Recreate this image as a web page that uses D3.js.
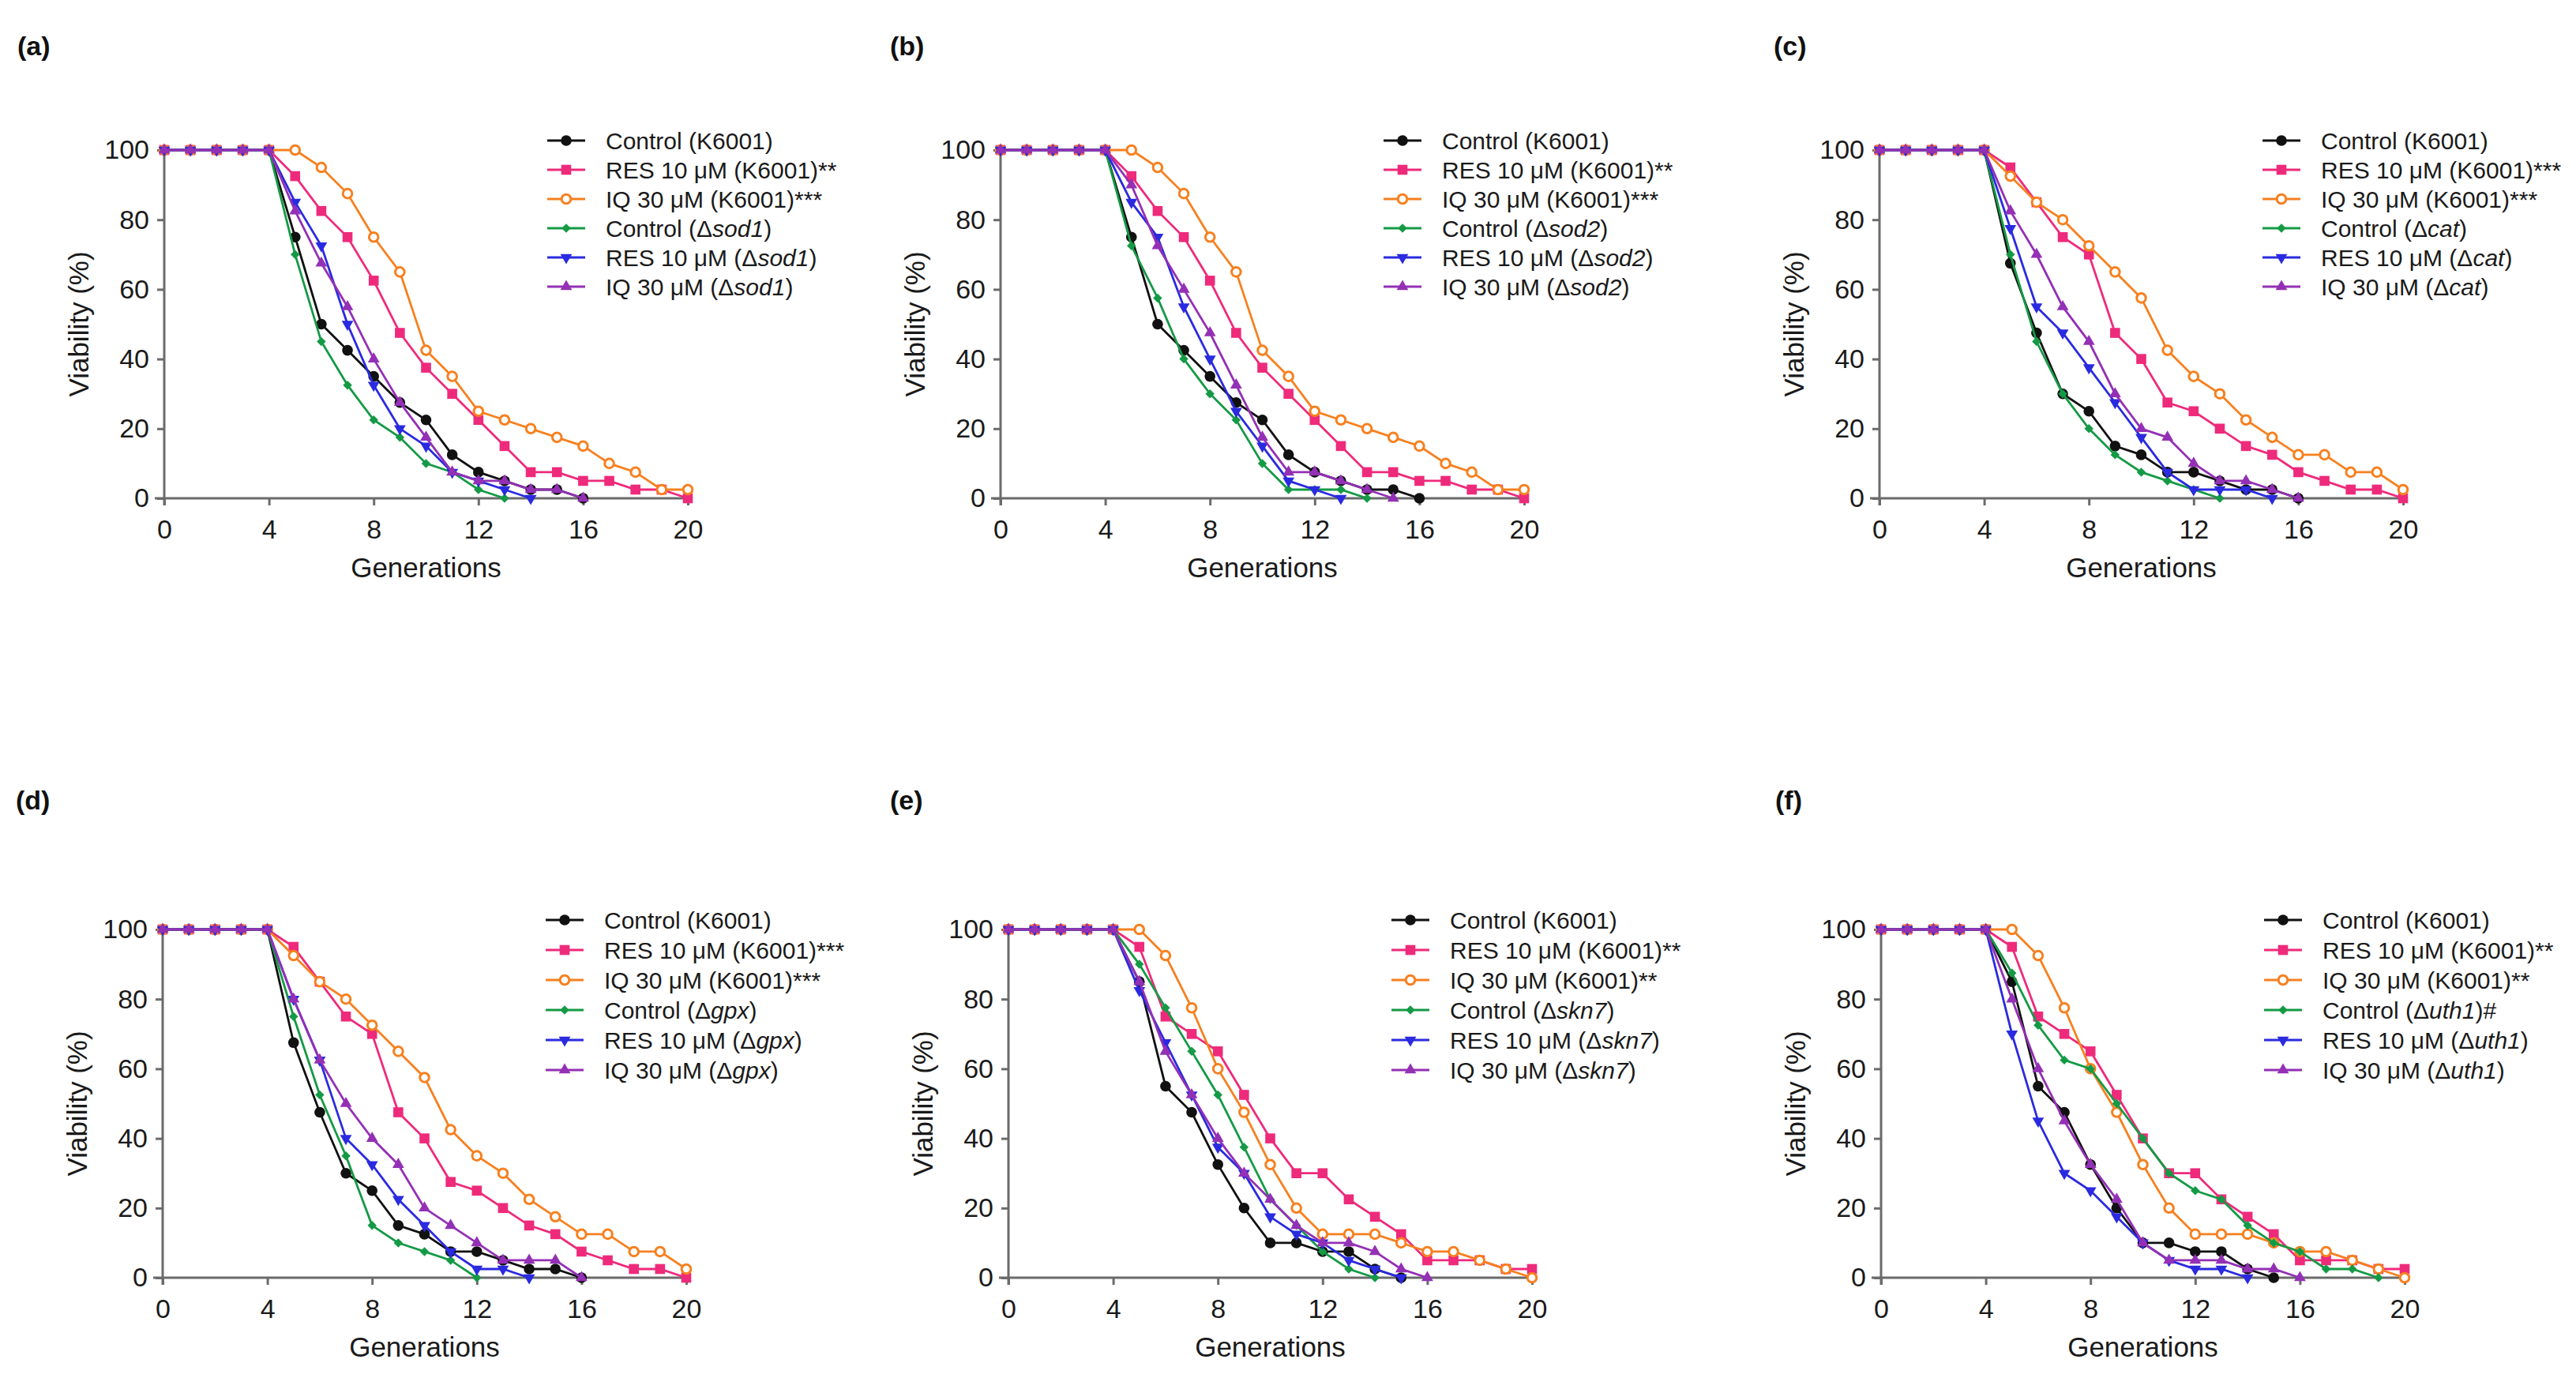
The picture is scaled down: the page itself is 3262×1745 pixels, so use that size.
<!DOCTYPE html>
<html>
<head>
<meta charset="utf-8">
<script src="https://cdn.jsdelivr.net/npm/d3@7"></script>
<style>
  body { margin: 0; background: #fff; }
  svg { display: block; font-family: "Liberation Sans", Arial, sans-serif; }
</style>
</head>
<body>
<div class="chart"></div>
<script>
// Paramètres de la figure
const width = 3262;
const height = 1745;

const xTicks = [0, 4, 8, 12, 16, 20];
const yTicks = [0, 20, 40, 60, 80, 100];

const panelLabels = ['(a)', '(b)', '(c)', '(d)', '(e)', '(f)'];
const mutants = ['sod1', 'sod2', 'cat', 'gpx', 'skn7', 'uth1'];
const resStars = ['**', '**', '***', '***', '**', '**'];
const iqStars = ['***', '***', '***', '***', '**', '**'];
const mutantControlMark = ['', '', '', '', '', '#'];

// viabilité (%) par génération, à partir de la génération 0
const ctrlAB = [100, 100, 100, 100, 100, 75, 50, 42.5, 35, 27.5, 22.5, 12.5, 7.5, 5, 2.5, 2.5, 0];
const resAB = [100, 100, 100, 100, 100, 92.5, 82.5, 75, 62.5, 47.5, 37.5, 30, 22.5, 15, 7.5, 7.5, 5, 5, 2.5, 2.5, 0];
const iqAB = [100, 100, 100, 100, 100, 100, 95, 87.5, 75, 65, 42.5, 35, 25, 22.5, 20, 17.5, 15, 10, 7.5, 2.5, 2.5];

const ctrlCD = [100, 100, 100, 100, 100, 67.5, 47.5, 30, 25, 15, 12.5, 7.5, 7.5, 5, 2.5, 2.5, 0];
const resCD = [100, 100, 100, 100, 100, 95, 85, 75, 70, 47.5, 40, 27.5, 25, 20, 15, 12.5, 7.5, 5, 2.5, 2.5, 0];
const iqCD = [100, 100, 100, 100, 100, 92.5, 85, 80, 72.5, 65, 57.5, 42.5, 35, 30, 22.5, 17.5, 12.5, 12.5, 7.5, 7.5, 2.5];

const ctrlEF = [100, 100, 100, 100, 100, 85, 55, 47.5, 32.5, 20, 10, 10, 7.5, 7.5, 2.5, 0];
const resEF = [100, 100, 100, 100, 100, 95, 75, 70, 65, 52.5, 40, 30, 30, 22.5, 17.5, 12.5, 5, 5, 5, 2.5, 2.5];
const iqEF = [100, 100, 100, 100, 100, 100, 92.5, 77.5, 60, 47.5, 32.5, 20, 12.5, 12.5, 12.5, 10, 7.5, 7.5, 5, 2.5, 0];

const ctrlSod1 = [100, 100, 100, 100, 100, 70, 45, 32.5, 22.5, 17.5, 10, 7.5, 2.5, 0];
const resSod1 = [100, 100, 100, 100, 100, 85, 72.5, 50, 32.5, 20, 15, 7.5, 5, 2.5, 0];
const iqSod1 = [100, 100, 100, 100, 100, 82.5, 67.5, 55, 40, 27.5, 17.5, 7.5, 5, 5, 2.5, 2.5, 0];

const ctrlSod2 = [100, 100, 100, 100, 100, 72.5, 57.5, 40, 30, 22.5, 10, 2.5, 2.5, 2.5, 0];
const resSod2 = [100, 100, 100, 100, 100, 85, 75, 55, 40, 25, 15, 5, 2.5, 0];
const iqSod2 = [100, 100, 100, 100, 100, 90, 72.5, 60, 47.5, 32.5, 17.5, 7.5, 7.5, 5, 2.5, 0];

const ctrlCat = [100, 100, 100, 100, 100, 70, 45, 30, 20, 12.5, 7.5, 5, 2.5, 0];
const resCat = [100, 100, 100, 100, 100, 77.5, 55, 47.5, 37.5, 27.5, 17.5, 7.5, 2.5, 2.5, 2.5, 0];
const iqCat = [100, 100, 100, 100, 100, 82.5, 70, 55, 45, 30, 20, 17.5, 10, 5, 5, 2.5, 0];

const ctrlGpx = [100, 100, 100, 100, 100, 75, 52.5, 35, 15, 10, 7.5, 5, 0];
const resGpx = [100, 100, 100, 100, 100, 80, 62.5, 40, 32.5, 22.5, 15, 7.5, 2.5, 2.5, 0];
const iqGpx = [100, 100, 100, 100, 100, 80, 62.5, 50, 40, 32.5, 20, 15, 10, 5, 5, 5, 0];

const ctrlSkn7 = [100, 100, 100, 100, 100, 90, 77.5, 65, 52.5, 37.5, 22.5, 15, 7.5, 2.5, 0];
const resSkn7 = [100, 100, 100, 100, 100, 82.5, 67.5, 52.5, 37.5, 30, 17.5, 12.5, 10, 5, 2.5, 0];
const iqSkn7 = [100, 100, 100, 100, 100, 85, 65, 52.5, 40, 30, 22.5, 15, 10, 10, 7.5, 2.5, 0];

const ctrlUth1 = [100, 100, 100, 100, 100, 87.5, 72.5, 62.5, 60, 50, 40, 30, 25, 22.5, 15, 10, 7.5, 2.5, 2.5, 0];
const resUth1 = [100, 100, 100, 100, 100, 70, 45, 30, 25, 17.5, 10, 5, 2.5, 2.5, 0];
const iqUth1 = [100, 100, 100, 100, 100, 80, 60, 45, 32.5, 22.5, 10, 5, 5, 5, 2.5, 2.5, 0];

const panelSeries = [
  [ctrlAB, resAB, iqAB, ctrlSod1, resSod1, iqSod1],
  [ctrlAB, resAB, iqAB, ctrlSod2, resSod2, iqSod2],
  [ctrlCD, resCD, iqCD, ctrlCat, resCat, iqCat],
  [ctrlCD, resCD, iqCD, ctrlGpx, resGpx, iqGpx],
  [ctrlEF, resEF, iqEF, ctrlSkn7, resSkn7, iqSkn7],
  [ctrlEF, resEF, iqEF, ctrlUth1, resUth1, iqUth1]
];

// style des séries : noir, rose, orange, vert, bleu, violet
const colors = ['#111111', '#ee2a7b', '#f7801f', '#149a45', '#2a2ae0', '#9330b5'];

// position des panneaux (origine des axes) et des lettres
const panelX = [208, 1267, 2380, 206, 1277, 2382];
const panelTop = [190, 190, 190, 1177, 1177, 1177];
const labelX = [22, 1127, 2246, 20, 1127, 2248];
const labelY = [70, 70, 70, 1025, 1025, 1025];
const legendGap = [37, 37, 37, 38, 38, 38];
const plotW = 663;
const plotH = 441;

const svg = d3.select('.chart')
  .append('svg')
  .attr('width', width)
  .attr('height', height);

function drawMarker(g, i, color) {
  if (i === 0) {
    g.append('circle').attr('r', 6.8).attr('fill', color);
  } else if (i === 1) {
    g.append('rect').attr('x', -6.3).attr('y', -6.3).attr('width', 12.6).attr('height', 12.6).attr('fill', color);
  } else if (i === 2) {
    g.append('circle').attr('r', 5.8).attr('fill', '#fff').attr('stroke', color).attr('stroke-width', 3);
  } else if (i === 3) {
    g.append('path').attr('d', d3.symbol(d3.symbolSquare, 66)()).attr('transform', 'rotate(45)').attr('fill', color);
  } else if (i === 4) {
    g.append('path').attr('d', d3.symbol(d3.symbolTriangle, 95)()).attr('transform', 'rotate(180)').attr('fill', color);
  } else {
    g.append('path').attr('d', d3.symbol(d3.symbolTriangle, 95)()).attr('fill', color);
  }
}

function legendLabels(p) {
  return [
    { text: 'Control (K6001)' },
    { text: 'RES 10 \u03bcM (K6001)' + resStars[p] },
    { text: 'IQ 30 \u03bcM (K6001)' + iqStars[p] },
    { pre: 'Control (\u0394', it: mutants[p], post: ')' + mutantControlMark[p] },
    { pre: 'RES 10 \u03bcM (\u0394', it: mutants[p], post: ')' },
    { pre: 'IQ 30 \u03bcM (\u0394', it: mutants[p], post: ')' }
  ];
}

function drawPanel(p) {
  const x0 = panelX[p];
  const top = panelTop[p];

  const scaleX = d3.scaleLinear().domain([0, 20]).range([x0, x0 + plotW]);
  const scaleY = d3.scaleLinear().domain([0, 100]).range([top + plotH, top]);

  const g = svg.append('g');

  // lettre du panneau
  g.append('text')
    .attr('x', labelX[p])
    .attr('y', labelY[p])
    .attr('font-size', 34)
    .attr('font-weight', 'bold')
    .attr('fill', '#111')
    .text(panelLabels[p]);

  // axes
  const axisColor = '#6b6b6b';
  const yAxis = g.append('g')
    .attr('transform', `translate(${x0}, 0)`)
    .call(d3.axisLeft(scaleY).tickValues(yTicks).tickSize(9).tickPadding(10))
    .call(a => a.select('.domain').remove());
  const xAxis = g.append('g')
    .attr('transform', `translate(0, ${top + plotH})`)
    .call(d3.axisBottom(scaleX).tickValues(xTicks).tickSize(9).tickPadding(18))
    .call(a => a.select('.domain').remove());

  [yAxis, xAxis].forEach(a => {
    a.selectAll('line').attr('stroke', axisColor).attr('stroke-width', 3);
    a.selectAll('text').attr('font-size', 34).attr('fill', '#1a1a1a')
      .attr('font-family', '"Liberation Sans", Arial, sans-serif');
  });

  g.append('line')
    .attr('x1', x0).attr('x2', x0)
    .attr('y1', scaleY(0) + 9).attr('y2', scaleY(100) - 1)
    .attr('stroke', axisColor).attr('stroke-width', 3);
  g.append('line')
    .attr('x1', x0 - 12).attr('x2', scaleX(20) + 1)
    .attr('y1', scaleY(0)).attr('y2', scaleY(0))
    .attr('stroke', axisColor).attr('stroke-width', 3);

  // titres d'axes
  g.append('text')
    .attr('x', (scaleX(0) + scaleX(20)) / 2)
    .attr('y', top + plotH + 100)
    .attr('text-anchor', 'middle')
    .attr('font-size', 35)
    .attr('fill', '#1a1a1a')
    .text('Generations');

  g.append('text')
    .attr('transform', `translate(${x0 - 96}, ${(scaleY(0) + scaleY(100)) / 2}) rotate(-90)`)
    .attr('text-anchor', 'middle')
    .attr('font-size', 35)
    .attr('fill', '#1a1a1a')
    .text('Viability (%)');

  // séries
  const line = d3.line()
    .x((d, i) => scaleX(i))
    .y(d => scaleY(d));

  panelSeries[p].forEach((values, s) => {
    g.append('path')
      .attr('d', line(values))
      .attr('fill', 'none')
      .attr('stroke', colors[s])
      .attr('stroke-width', 2.8);

    values.forEach((v, i) => {
      const m = g.append('g').attr('transform', `translate(${scaleX(i)}, ${scaleY(v)})`);
      drawMarker(m, s, colors[s]);
    });
  });

  // légende
  const labels = legendLabels(p);
  const leg = g.append('g').attr('transform', `translate(${x0 + 485}, ${top - 12})`);
  labels.forEach((d, i) => {
    const row = leg.append('g').attr('transform', `translate(0, ${i * legendGap[p]})`);
    row.append('line')
      .attr('x1', 0).attr('x2', 48)
      .attr('stroke', colors[i]).attr('stroke-width', 2.8);
    drawMarker(row.append('g').attr('transform', 'translate(24, 0)'), i, colors[i]);

    const t = row.append('text')
      .attr('x', 74)
      .attr('y', 10.5)
      .attr('font-size', 30)
      .attr('fill', '#1a1a1a');
    if (d.text) {
      t.text(d.text);
    } else {
      t.append('tspan').text(d.pre);
      t.append('tspan').attr('font-style', 'italic').text(d.it);
      t.append('tspan').text(d.post);
    }
  });
}

d3.range(6).forEach(drawPanel);
</script>
</body>
</html>
